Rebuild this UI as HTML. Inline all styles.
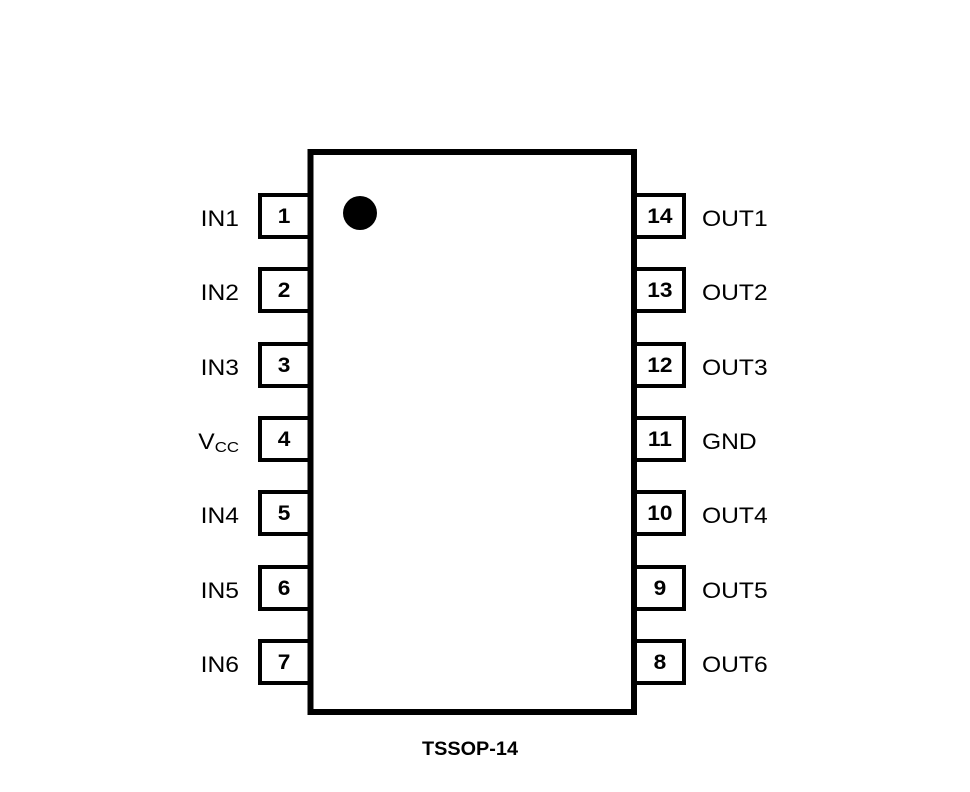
<!DOCTYPE html>
<html><head><meta charset="utf-8"><style>body{margin:0;background:#fff}</style></head><body>
<svg width="970" height="787" viewBox="0 0 970 787" xmlns="http://www.w3.org/2000/svg" font-family="Liberation Sans, sans-serif">
<rect x="0" y="0" width="970" height="787" fill="#fff"/>
<g fill="none" stroke="#000" stroke-width="4">
<rect x="260" y="195" width="50" height="42"/>
<rect x="260" y="269" width="50" height="42"/>
<rect x="260" y="344" width="50" height="42"/>
<rect x="260" y="418" width="50" height="42"/>
<rect x="260" y="492" width="50" height="42"/>
<rect x="260" y="567" width="50" height="42"/>
<rect x="260" y="641" width="50" height="42"/>
<rect x="634" y="195" width="50" height="42"/>
<rect x="634" y="269" width="50" height="42"/>
<rect x="634" y="344" width="50" height="42"/>
<rect x="634" y="418" width="50" height="42"/>
<rect x="634" y="492" width="50" height="42"/>
<rect x="634" y="567" width="50" height="42"/>
<rect x="634" y="641" width="50" height="42"/>
</g>
<rect x="310.5" y="152" width="323.5" height="560" fill="#fff" stroke="#000" stroke-width="6"/>
<circle cx="360" cy="213" r="17" fill="#000"/>
<g font-weight="bold" font-size="21" text-anchor="middle" transform="scale(1.08,1)">
<text x="263" y="223">1</text><text x="263" y="297">2</text><text x="263" y="372">3</text><text x="263" y="446">4</text><text x="263" y="520">5</text><text x="263" y="595">6</text><text x="263" y="669">7</text>
<text x="611" y="223">14</text><text x="611" y="297">13</text><text x="611" y="372">12</text><text x="611" y="446">11</text><text x="611" y="520">10</text><text x="611" y="595">9</text><text x="611" y="669">8</text>
</g>
<g font-size="22" text-anchor="end" transform="translate(239,0) scale(1.12,1) translate(-239,0)">
<text x="239" y="226">IN1</text><text x="239" y="300">IN2</text><text x="239" y="375">IN3</text>
<text x="239" y="449">V<tspan font-size="15" dy="3">CC</tspan></text>
<text x="239" y="523">IN4</text><text x="239" y="598">IN5</text><text x="239" y="672">IN6</text>
</g>
<g font-size="22" transform="translate(702,0) scale(1.12,1) translate(-702,0)">
<text x="702" y="226">OUT1</text><text x="702" y="300">OUT2</text><text x="702" y="375">OUT3</text><text x="702" y="449">GND</text><text x="702" y="523">OUT4</text><text x="702" y="598">OUT5</text><text x="702" y="672">OUT6</text>
</g>
<text x="470" y="755" font-size="19" font-weight="bold" text-anchor="middle" textLength="96" lengthAdjust="spacingAndGlyphs">TSSOP-14</text>
</svg>
</body></html>
